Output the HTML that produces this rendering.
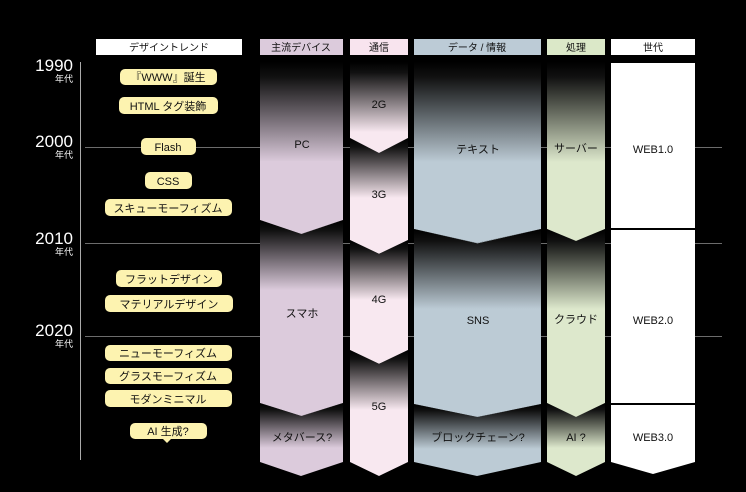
<!DOCTYPE html>
<html><head><meta charset="utf-8"><style>
html,body{margin:0;padding:0;background:#000;}
svg{display:block;font-family:"Liberation Sans","Noto Sans CJK JP",sans-serif;}
</style></head><body>
<svg width="746" height="492" viewBox="0 0 746 492" xmlns="http://www.w3.org/2000/svg">
<defs>
<linearGradient id="gP" x1="0" y1="0" x2="0" y2="1"><stop offset="0" stop-color="#000"/><stop offset="0.15" stop-color="#111"/><stop offset="1" stop-color="#dccbdc"/></linearGradient>
<linearGradient id="gC" x1="0" y1="0" x2="0" y2="1"><stop offset="0" stop-color="#000"/><stop offset="0.15" stop-color="#111"/><stop offset="1" stop-color="#f8e8f0"/></linearGradient>
<linearGradient id="gD" x1="0" y1="0" x2="0" y2="1"><stop offset="0" stop-color="#000"/><stop offset="0.15" stop-color="#111"/><stop offset="1" stop-color="#bccbd5"/></linearGradient>
<linearGradient id="gS" x1="0" y1="0" x2="0" y2="1"><stop offset="0" stop-color="#000"/><stop offset="0.15" stop-color="#111"/><stop offset="1" stop-color="#dde8cc"/></linearGradient>
</defs>
<rect width="746" height="492" fill="#000"/>
<!-- timeline lines (behind) -->
<line x1="80.5" y1="62" x2="80.5" y2="460" stroke="#aaa" stroke-width="1"/>
<g stroke="#888" stroke-width="1" opacity="0.8">
<line x1="85" y1="147.5" x2="722" y2="147.5"/>
<line x1="85" y1="243.5" x2="722" y2="243.5"/>
<line x1="85" y1="336.5" x2="722" y2="336.5"/>
</g>
<!-- headers -->
<g font-size="10" text-anchor="middle" fill="#111">
<rect x="96" y="39" width="146" height="16" fill="#fff"/><text x="169" y="51">デザイントレンド</text>
<rect x="260" y="39" width="83" height="16" fill="#dccbdc"/><text x="301" y="51">主流デバイス</text>
<rect x="350" y="39" width="58" height="16" fill="#f8e4ee"/><text x="379" y="51">通信</text>
<rect x="414" y="39" width="127" height="16" fill="#bccbd6"/><text x="477" y="51">データ / 情報</text>
<rect x="547" y="39" width="58" height="16" fill="#dbe8c8"/><text x="576" y="51">処理</text>
<rect x="611" y="39" width="84" height="16" fill="#fff"/><text x="653" y="51">世代</text>
</g>

<!-- segments: device -->
<rect x="260" y="62" width="83" height="100" fill="url(#gP)"/>
<polygon points="260,161 343,161 343,220 301,234 260,220" fill="#dccbdc"/>
<polygon points="260,220 301,234 343,220 343,403 301,416 260,403" fill="#dccbdc"/>
<rect x="260" y="220" width="83" height="70" fill="url(#gP)" style="clip-path:polygon(0 0,50% 20%,100% 0,100% 100%,0 100%)"/>
<polygon points="260,403 301,416 343,403 343,462 301,476 260,462" fill="#dccbdc"/>
<rect x="260" y="403" width="83" height="45" fill="url(#gP)" style="clip-path:polygon(0 0,50% 29%,100% 0,100% 100%,0 100%)"/>

<!-- comm -->
<polygon points="350,62 408,62 408,138 379,153 350,138" fill="#f8e8f0"/>
<rect x="350" y="62" width="58" height="70" fill="url(#gC)"/>
<polygon points="350,138 379,153 408,138 408,240 379,254 350,240" fill="#f8e8f0"/>
<rect x="350" y="138" width="58" height="60" fill="url(#gC)" style="clip-path:polygon(0 0,50% 25%,100% 0,100% 100%,0 100%)"/>
<polygon points="350,240 379,254 408,240 408,350 379,364 350,350" fill="#f8e8f0"/>
<rect x="350" y="240" width="58" height="60" fill="url(#gC)" style="clip-path:polygon(0 0,50% 23%,100% 0,100% 100%,0 100%)"/>
<polygon points="350,350 379,364 408,350 408,462 379,476 350,462" fill="#f8e8f0"/>
<rect x="350" y="350" width="58" height="60" fill="url(#gC)" style="clip-path:polygon(0 0,50% 23%,100% 0,100% 100%,0 100%)"/>

<!-- data -->
<polygon points="414,62 541,62 541,229 477,243 414,229" fill="#bccbd5"/>
<rect x="414" y="62" width="127" height="100" fill="url(#gD)"/>
<polygon points="414,229 477,243 541,229 541,404 477,417 414,404" fill="#bccbd5"/>
<rect x="414" y="229" width="127" height="80" fill="url(#gD)" style="clip-path:polygon(0 0,50% 18%,100% 0,100% 100%,0 100%)"/>
<polygon points="414,404 477,417 541,404 541,462 477,476 414,462" fill="#bccbd5"/>
<rect x="414" y="404" width="127" height="45" fill="url(#gD)" style="clip-path:polygon(0 0,50% 29%,100% 0,100% 100%,0 100%)"/>

<!-- process -->
<polygon points="547,62 605,62 605,229 576,241 547,229" fill="#dde8cc"/>
<rect x="547" y="62" width="58" height="100" fill="url(#gS)"/>
<polygon points="547,229 576,241 605,229 605,403 576,417 547,403" fill="#dde8cc"/>
<rect x="547" y="229" width="58" height="80" fill="url(#gS)" style="clip-path:polygon(0 0,50% 15%,100% 0,100% 100%,0 100%)"/>
<polygon points="547,403 576,417 605,403 605,462 576,476 547,462" fill="#dde8cc"/>
<rect x="547" y="403" width="58" height="45" fill="url(#gS)" style="clip-path:polygon(0 0,50% 31%,100% 0,100% 100%,0 100%)"/>

<!-- generation -->
<rect x="611" y="63" width="84" height="165" fill="#fff"/>
<rect x="611" y="230" width="84" height="173" fill="#fff"/>
<polygon points="611,405 695,405 695,462 653,474 611,462" fill="#fff"/>

<g fill="#fff" text-anchor="end">
<text x="73" y="71" font-size="17">1990</text><text x="73" y="82" font-size="9">年代</text>
<text x="73" y="147" font-size="17">2000</text><text x="73" y="158" font-size="9">年代</text>
<text x="73" y="244" font-size="17">2010</text><text x="73" y="255" font-size="9">年代</text>
<text x="73" y="336" font-size="17">2020</text><text x="73" y="347" font-size="9">年代</text>
</g>

<!-- pills -->
<g fill="#fdf3b0">
<rect x="120" y="69" width="97" height="16" rx="5"/>
<rect x="119" y="97" width="99" height="17" rx="5"/>
<rect x="141" y="138" width="55" height="17" rx="5"/>
<rect x="145" y="172" width="47" height="17" rx="5"/>
<rect x="105" y="199" width="127" height="17" rx="5"/>
<rect x="116" y="270" width="106" height="17" rx="5"/>
<rect x="105" y="295" width="128" height="17" rx="5"/>
<rect x="105" y="345" width="127" height="16" rx="5"/>
<rect x="105" y="368" width="127" height="16" rx="5"/>
<rect x="105" y="390" width="127" height="17" rx="5"/>
<rect x="130" y="423" width="77" height="16" rx="5"/>
<polygon points="162,438 172,438 167,443"/>
</g>
<g font-size="11" text-anchor="middle" fill="#111">
<text x="168" y="81">『WWW』誕生</text>
<text x="168" y="110">HTML タグ装飾</text>
<text x="168" y="151">Flash</text>
<text x="168" y="185">CSS</text>
<text x="168" y="212">スキューモーフィズム</text>
<text x="169" y="283">フラットデザイン</text>
<text x="169" y="308">マテリアルデザイン</text>
<text x="168" y="357">ニューモーフィズム</text>
<text x="168" y="380">グラスモーフィズム</text>
<text x="168" y="403">モダンミニマル</text>
<text x="168" y="435">AI 生成?</text>
</g>

<!-- labels -->
<g font-size="11" text-anchor="middle" fill="#111">
<text x="302" y="148">PC</text>
<text x="379" y="108">2G</text>
<text x="379" y="198">3G</text>
<text x="478" y="153">テキスト</text>
<text x="576" y="152">サーバー</text>
<text x="653" y="153">WEB1.0</text>
<text x="302" y="317">スマホ</text>
<text x="379" y="303">4G</text>
<text x="478" y="324">SNS</text>
<text x="576" y="323">クラウド</text>
<text x="653" y="324">WEB2.0</text>
<text x="379" y="410">5G</text>
<text x="302" y="441">メタバース?</text>
<text x="478" y="441">ブロックチェーン?</text>
<text x="576" y="441">AI ?</text>
<text x="653" y="441">WEB3.0</text>
</g>
</svg>
</body></html>
